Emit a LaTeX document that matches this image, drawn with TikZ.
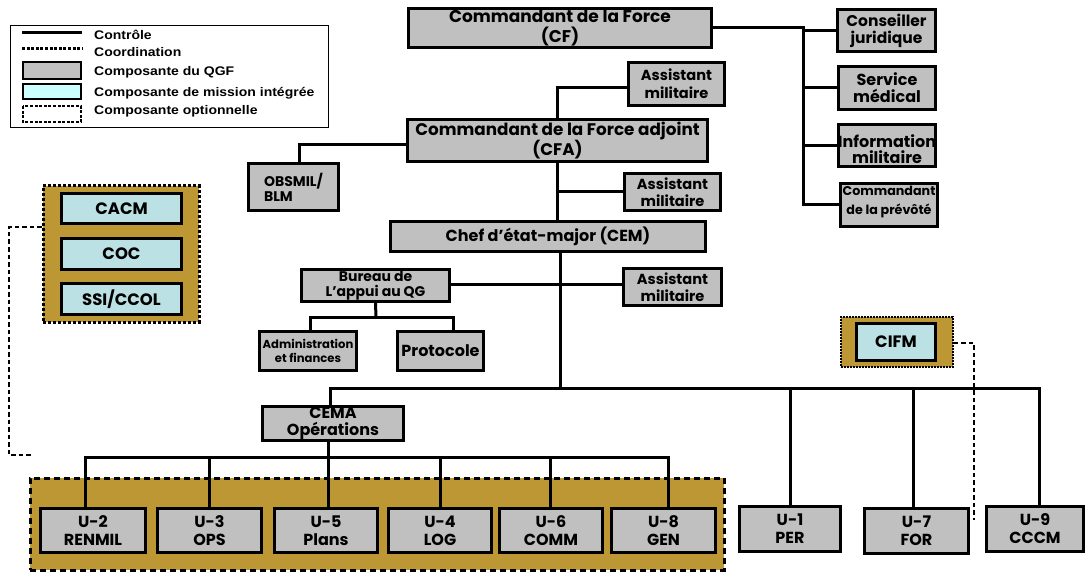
\documentclass[tikz,border=0pt]{standalone}
\usepackage{fontspec}
\setmainfont{Poppins}
\newfontfamily\legendfont{Liberation Sans}[FakeStretch=1.12]
\definecolor{qgfgray}{RGB}{192,192,192}
\definecolor{misscyan}{RGB}{187,225,228}
\definecolor{legcyan}{RGB}{204,255,255}
\definecolor{optgold}{RGB}{189,151,51}
\begin{document}
\begin{tikzpicture}[x=1pt,y=-1pt,
  conn/.style={line width=3pt},
  coord/.style={line width=1.5pt, dash pattern=on 4.5pt off 3pt},
  gbox/.style={draw, line width=2.8pt, fill=qgfgray, inner sep=0pt, align=center,
    font=\bfseries\fontsize{16}{18}\selectfont},
  cbox/.style={gbox, fill=misscyan, font=\bfseries\fontsize{16.5}{18}\selectfont},
  boxtext/.style={inner sep=0pt, align=center, font=\bfseries\fontsize{16}{16}\selectfont},
  legtext/.style={inner sep=0pt, anchor=west, font=\legendfont\bfseries\fontsize{12.5}{14}\selectfont},
]
\useasboundingbox (0,0) rectangle (1087,572);

% ---------- optional containers (drawn first, behind boxes)
\node[draw, fill=optgold, line width=3pt, dash pattern=on 6pt off 4pt,
  minimum width=694pt, minimum height=92pt, inner sep=0pt] (GEN) at (377,524) {};
\node[draw, fill=optgold, line width=3pt, dash pattern=on 3pt off 2pt,
  minimum width=156pt, minimum height=136pt, inner sep=0pt] (LG) at (121,254) {};
\node[draw, fill=optgold, line width=1.6pt, dash pattern=on 1.6pt off 1.4pt,
  minimum width=112pt, minimum height=50pt, inner sep=0pt] (CIFMo) at (897,342) {};

% ---------- legend
\node[draw, line width=1pt, minimum width=318pt, minimum height=102pt, inner sep=0pt] (legend) at (169,77) {};
\draw[conn] (22,33) -- (82,33);
\draw[line width=3pt, dash pattern=on 3pt off 1.6pt] (22,49) -- (82,49);
\draw[line width=2.8pt, fill=qgfgray] (23,62) rectangle (81,79);
\draw[line width=2.8pt, fill=legcyan] (23,84) rectangle (81,99);
\draw[line width=2.8pt, dash pattern=on 3pt off 1.6pt] (23,106) rectangle (81,122);
\node[legtext] (lg1) at (94,35) {Contrôle};
\node[legtext] (lg2) at (94,52) {Coordination};
\node[legtext] (lg3) at (94,72) {Composante du QGF};
\node[legtext] (lg4) at (94,93) {Composante de mission intégrée};
\node[legtext] (lg5) at (94,111) {Composante optionnelle};

% ---------- command group
\node[gbox, minimum width=303pt, minimum height=39pt, font=\bfseries\fontsize{17}{20}\selectfont] (CF) at (560,28) {Commandant de la Force\\(CF)};
\node[gbox, minimum width=98pt, minimum height=42pt, font=\bfseries\fontsize{15.5}{17}\selectfont] (CJ) at (886.5,30.5) {Conseiller\\juridique};
\node[gbox, minimum width=97pt, minimum height=43pt, font=\bfseries\fontsize{16}{17}\selectfont] (SM) at (887,88) {Service\\médical};
\node[gbox, minimum width=97pt, minimum height=42pt] (IM) at (887,145.5) {};
\node[boxtext] (IMt) at (887,149) {Information\\militaire};
\node[gbox, minimum width=97pt, minimum height=43pt] (CP) at (889,205) {};
\node[boxtext, font=\bfseries\fontsize{12.7}{19}\selectfont] (CPt) at (889,202) {Commandant\\de la prévôté};

\node[gbox, minimum width=96pt, minimum height=43pt, font=\bfseries\fontsize{14.6}{18}\selectfont] (AM1) at (676.5,84) {Assistant\\militaire};
\node[gbox, minimum width=300pt, minimum height=42pt, font=\bfseries\fontsize{16.8}{19}\selectfont] (CFA) at (557.5,140.5) {Commandant de la Force adjoint\\(CFA)};
\node[gbox, minimum width=90pt, minimum height=47pt, align=left, font=\bfseries\fontsize{14}{15}\selectfont] (OBS) at (293.5,187) {OBSMIL/\\BLM};
\node[gbox, minimum width=96pt, minimum height=37pt, font=\bfseries\fontsize{14.6}{17}\selectfont] (AM2) at (672.5,192) {Assistant\\militaire};
\node[gbox, minimum width=315pt, minimum height=30pt, font=\bfseries\fontsize{16}{18}\selectfont] (CEM) at (548,236.5) {Chef d’état-major (CEM)};
\node[gbox, minimum width=98pt, minimum height=37pt, font=\bfseries\fontsize{14.6}{17}\selectfont] (AM3) at (672.5,287) {Assistant\\militaire};
\node[gbox, minimum width=148pt, minimum height=32pt, font=\bfseries\fontsize{14}{15}\selectfont] (BUR) at (375.5,285.5) {Bureau de\\L’appui au QG};
\node[gbox, minimum width=97pt, minimum height=39pt, font=\bfseries\fontsize{11.6}{14}\selectfont] (ADM) at (308,351) {Administration\\et finances};
\node[gbox, minimum width=86pt, minimum height=39pt] (PRO) at (440.5,351) {Protocole};

% ---------- mission components
\node[cbox, minimum width=120pt, minimum height=30pt] (CACM) at (121.5,208.5) {CACM};
\node[cbox, minimum width=120pt, minimum height=31pt] (COC) at (121.5,254) {COC};
\node[cbox, minimum width=120pt, minimum height=31pt] (SSI) at (121.5,299) {SSI/CCOL};
\node[cbox, minimum width=79pt, minimum height=37pt] (CIFM) at (896,342) {CIFM};

% ---------- staff branches
\node[gbox, minimum width=141pt, minimum height=34pt, font=\bfseries\fontsize{16}{17}\selectfont] (CEMA) at (333,423.5) {CEMA\\Opérations};
\node[gbox, minimum width=105pt, minimum height=44pt] (U2) at (93,530.5) {U-2\\RENMIL};
\node[gbox, minimum width=104pt, minimum height=44pt] (U3) at (209.5,530.5) {U-3\\OPS};
\node[gbox, minimum width=103pt, minimum height=44pt] (U5) at (326,530.5) {U-5\\Plans};
\node[gbox, minimum width=103pt, minimum height=44pt] (U4) at (440,530.5) {U-4\\LOG};
\node[gbox, minimum width=103pt, minimum height=44pt] (U6) at (551,530.5) {U-6\\COMM};
\node[gbox, minimum width=104pt, minimum height=44pt] (U8) at (663.5,530.5) {U-8\\GEN};
\node[gbox, minimum width=101pt, minimum height=45pt] (U1) at (790,529) {U-1\\PER};
\node[gbox, minimum width=104pt, minimum height=45pt] (U7) at (916.5,531) {U-7\\FOR};
\node[gbox, minimum width=97pt, minimum height=45pt] (U9) at (1035,529) {U-9\\CCCM};

% ---------- control connectors
\coordinate (rt) at (803,28);
\coordinate (hub) at (560,388);
\coordinate (bj) at (376,317);
\coordinate (cj) at (328,457);
\coordinate (u7t) at ([xshift=-3.5pt]U7.north);
\coordinate (u6t) at ([xshift=-1pt]U6.north);
\draw[conn] (CF.east) -- (rt) -- (rt |- CP.west) -- (CP.west);
\draw[conn] (rt |- CJ.west) -- (CJ.west);
\draw[conn] (rt |- SM.west) -- (SM.west);
\draw[conn] (rt |- IM.west) -- (IM.west);

\draw[conn] ([yshift=-4pt]AM1.west) -| (CFA.north);
\draw[conn] ([yshift=-4.5pt]CFA.west) -| ([xshift=5.5pt]OBS.north);
\draw[conn] (CFA.south) -- (CFA.south |- CEM.north);
\draw[conn] (AM2.west) -- (AM2.west -| CFA.south);
\draw[conn] ([xshift=12pt]CEM.south) -- (hub);
\draw[conn] ([yshift=1.5pt]BUR.east) -- ([yshift=1.5pt]BUR.east -| AM3.west);
\draw[conn] (BUR.south) -- (bj);
\draw[conn] ([xshift=2pt]ADM.north) |- (bj) -| ([xshift=12.5pt]PRO.north);

\draw[conn] ([xshift=-3pt]CEMA.north) |- (hub) -| ([xshift=4pt]U9.north);
\draw[conn] (hub -| U1.north) -- (U1.north);
\draw[conn] (hub -| u7t) -- (u7t);

\draw[conn] ([xshift=-5pt]CEMA.south) -- (cj);
\draw[conn] ([xshift=-8pt]U2.north) |- (cj) -| ([xshift=4.5pt]U8.north);
\draw[conn] (cj -| U3.north) -- (U3.north);
\draw[conn] (cj) -- ([xshift=2pt]U5.north);
\draw[conn] (cj -| U4.north) -- (U4.north);
\draw[conn] (cj -| u6t) -- (u6t);

% ---------- coordination connectors
\coordinate (lc1) at (9,227);
\coordinate (lc2) at (9,455);
\coordinate (lc3) at (33,455);
\draw[coord] ([yshift=27pt]LG.west) -- (lc1) -- (lc2) -- (lc3);
\coordinate (rc1) at (974,343);
\coordinate (rc2) at (974,520);
\draw[coord] (CIFMo.east |- rc1) -- (rc1) -- (rc2);
\end{tikzpicture}
\end{document}
